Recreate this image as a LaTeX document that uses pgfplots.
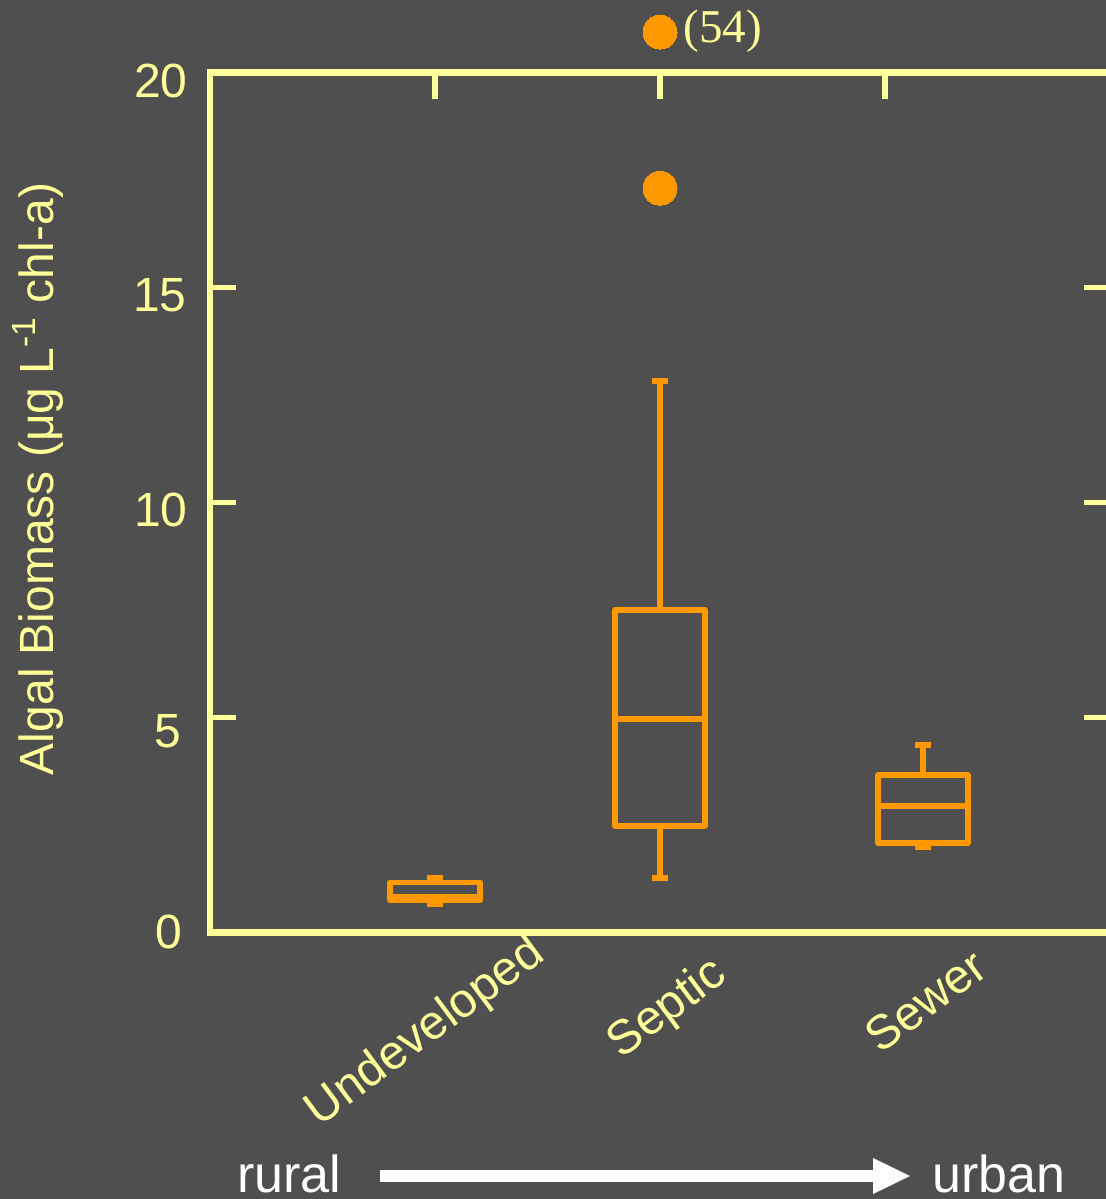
\documentclass[border=0pt]{standalone}
\usepackage{pgfplots}
\pgfplotsset{compat=1.18}
\usepgfplotslibrary{statistics}
\usepackage{fontspec}
\setmainfont{Liberation Sans}
\newfontfamily\seriffont{Liberation Serif}
\definecolor{bg}{HTML}{4F4F4F}
\definecolor{yel}{HTML}{FFFF99}
\definecolor{org}{HTML}{FF9900}
\begin{document}
\begin{tikzpicture}
\fill[bg] (0,0) rectangle (553pt,-599.5pt);
\begin{axis}[
  at={(105pt,-466.25pt)}, anchor=south west,
  scale only axis, width=450pt, height=430pt,
  xmin=0, xmax=4, ymin=0, ymax=20,
  clip=false,
  axis line style={yel, line width=3.25pt},
  xtick={1,2,3}, xticklabels={}, xtick pos=right,
  ytick={0,5,10,15,20}, yticklabels={}, ytick pos=both,
  tick align=inside, major tick length=13pt,
  tick style={yel, line width=2.9pt},
  boxplot/draw direction=y,
  boxplot/box extend=0.4, boxplot/whisker extend=0.075,
  boxstyle/.style={org, line width=2.7pt, line join=round, mark=*, mark size=8.5pt,
    mark options={fill=org, draw=org, line width=0pt}},
]
% Undeveloped
\addplot[boxstyle, boxplot prepared={draw position=1,
  lower whisker=0.65, lower quartile=0.74, median=0.84,
  upper quartile=1.17, upper whisker=1.28}] coordinates {};
% Septic
\addplot[boxstyle, boxplot prepared={draw position=2,
  lower whisker=1.27, lower quartile=2.48, median=4.97,
  upper quartile=7.5, upper whisker=12.83}] coordinates {(2,17.31) (2,20.94)};
% Sewer
\addplot[boxstyle, boxplot prepared={draw position=3.169,
  lower whisker=1.99, lower quartile=2.08, median=2.94,
  upper quartile=3.66, upper whisker=4.36}] coordinates {};
\end{axis}
\begin{scope}[x=0.5pt, y=-0.5pt, every node/.style={inner sep=0pt, text=yel}]
  \node[anchor=east, font=\fontsize{24}{28}\selectfont] at (188,80.5) {20};
  \node[anchor=east, font=\fontsize{24}{28}\selectfont] at (187,295) {15};
  \node[anchor=east, font=\fontsize{24}{28}\selectfont] at (188,510) {10};
  \node[anchor=east, font=\fontsize{24}{28}\selectfont] at (182,731) {5};
  \node[anchor=east, font=\fontsize{24}{28}\selectfont] at (183,932) {0};
  \node[anchor=base west, font=\seriffont\fontsize{23.5}{27}\selectfont] at (683,42) {(54)};
  \node[rotate=90, font=\fontsize{24}{28}\selectfont] at (38,479) {Algal Biomass (μg L\textsuperscript{-1} chl-a)};
  \node[rotate=36.6, anchor=north east, font=\fontsize{24}{28}\selectfont] at (526,930) {Undeveloped};
  \node[rotate=36.6, anchor=north east, font=\fontsize{24}{28}\selectfont] at (708,951) {Septic};
  \node[rotate=36.6, anchor=north east, font=\fontsize{24}{28}\selectfont] at (970,946) {Sewer};
  \node[anchor=base west, text=white, font=\fontsize{26}{30}\selectfont] at (237,1192) {rural};
  \node[anchor=base west, text=white, font=\fontsize{26}{30}\selectfont] at (932,1192) {urban};
  \fill[white] (380,1170) rectangle (875,1182);
  \fill[white] (873,1158) -- (910,1176) -- (873,1194) -- cycle;
\end{scope}
\pgfresetboundingbox
\useasboundingbox (0,0) rectangle (553pt,-599.5pt);
\end{tikzpicture}
\end{document}
